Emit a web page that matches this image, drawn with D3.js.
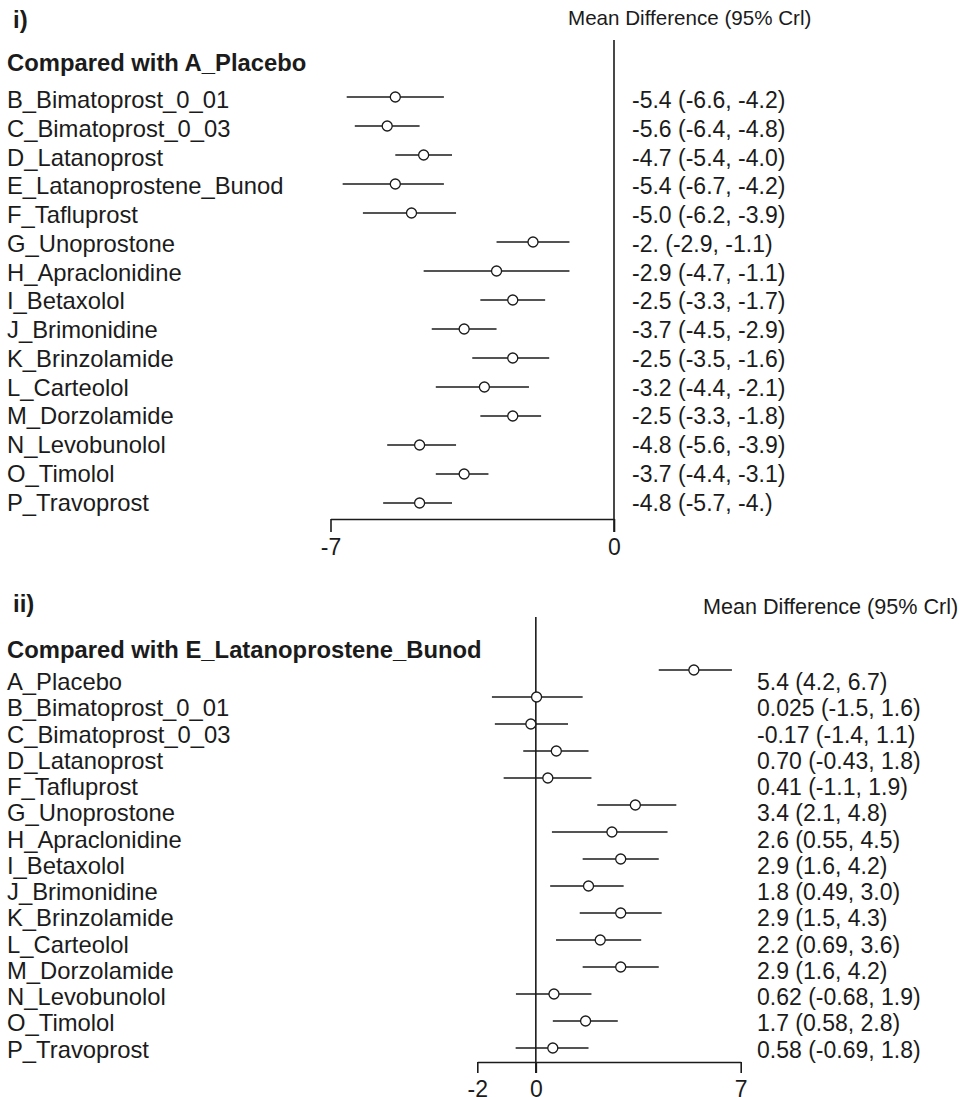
<!DOCTYPE html>
<html>
  <head>
    <style>
      body { margin: 0; background: #ffffff; }
      text { font-family: "Liberation Sans", Arial, sans-serif; fill: #1b1b1b; }
    </style>
  </head>
  <body>
    <svg id="workspace"></svg>
  </body>
</html>

<script src="https://d3js.org/d3.v7.min.js"></script>

<script>
  const WIDTH = 964;
  const HEIGHT = 1097;

  // panel i) - compared with A_Placebo
  const treatmentsA = ['B_Bimatoprost_0_01', 'C_Bimatoprost_0_03', 'D_Latanoprost',
    'E_Latanoprostene_Bunod', 'F_Tafluprost', 'G_Unoprostone', 'H_Apraclonidine',
    'I_Betaxolol', 'J_Brimonidine', 'K_Brinzolamide', 'L_Carteolol', 'M_Dorzolamide',
    'N_Levobunolol', 'O_Timolol', 'P_Travoprost']
  const meanA = [-5.4, -5.6, -4.7, -5.4, -5.0, -2.0, -2.9, -2.5, -3.7, -2.5, -3.2, -2.5, -4.8, -3.7, -4.8]
  const lowA = [-6.6, -6.4, -5.4, -6.7, -6.2, -2.9, -4.7, -3.3, -4.5, -3.5, -4.4, -3.3, -5.6, -4.4, -5.7]
  const highA = [-4.2, -4.8, -4.0, -4.2, -3.9, -1.1, -1.1, -1.7, -2.9, -1.6, -2.1, -1.8, -3.9, -3.1, -4.0]
  const textA = ['-5.4 (-6.6, -4.2)', '-5.6 (-6.4, -4.8)', '-4.7 (-5.4, -4.0)', '-5.4 (-6.7, -4.2)',
    '-5.0 (-6.2, -3.9)', '-2. (-2.9, -1.1)', '-2.9 (-4.7, -1.1)', '-2.5 (-3.3, -1.7)',
    '-3.7 (-4.5, -2.9)', '-2.5 (-3.5, -1.6)', '-3.2 (-4.4, -2.1)', '-2.5 (-3.3, -1.8)',
    '-4.8 (-5.6, -3.9)', '-3.7 (-4.4, -3.1)', '-4.8 (-5.7, -4.)']
  const ticksA = [-7, 0]

  // panel ii) - compared with E_Latanoprostene_Bunod
  const treatmentsE = ['A_Placebo', 'B_Bimatoprost_0_01', 'C_Bimatoprost_0_03', 'D_Latanoprost',
    'F_Tafluprost', 'G_Unoprostone', 'H_Apraclonidine', 'I_Betaxolol', 'J_Brimonidine',
    'K_Brinzolamide', 'L_Carteolol', 'M_Dorzolamide', 'N_Levobunolol', 'O_Timolol', 'P_Travoprost']
  const meanE = [5.4, 0.025, -0.17, 0.70, 0.41, 3.4, 2.6, 2.9, 1.8, 2.9, 2.2, 2.9, 0.62, 1.7, 0.58]
  const lowE = [4.2, -1.5, -1.4, -0.43, -1.1, 2.1, 0.55, 1.6, 0.49, 1.5, 0.69, 1.6, -0.68, 0.58, -0.69]
  const highE = [6.7, 1.6, 1.1, 1.8, 1.9, 4.8, 4.5, 4.2, 3.0, 4.3, 3.6, 4.2, 1.9, 2.8, 1.8]
  const textE = ['5.4 (4.2, 6.7)', '0.025 (-1.5, 1.6)', '-0.17 (-1.4, 1.1)', '0.70 (-0.43, 1.8)',
    '0.41 (-1.1, 1.9)', '3.4 (2.1, 4.8)', '2.6 (0.55, 4.5)', '2.9 (1.6, 4.2)', '1.8 (0.49, 3.0)',
    '2.9 (1.5, 4.3)', '2.2 (0.69, 3.6)', '2.9 (1.6, 4.2)', '0.62 (-0.68, 1.9)', '1.7 (0.58, 2.8)',
    '0.58 (-0.69, 1.8)']
  const ticksE = [-2, 0, 7]

  let svg = d3.select('#workspace')
    .attr('width', WIDTH)
    .attr('height', HEIGHT)

  drawPanel({
    tag: 'i)', tagY: 28,
    header: 'Mean Difference (95% Crl)', headerX: 568, headerY: 25, headerSize: 20.6,
    title: 'Compared with A_Placebo', titleY: 71,
    names: treatmentsA, mean: meanA, low: lowA, high: highA, text: textA, ticks: ticksA,
    xDomain: [-7, 0], xRange: [330.5, 614],
    pointY: [97, 503], textY: [100, 502.5], valueX: 632,
    zeroTop: 40, axisY: 519, tick: 13, tickPad: 7
  })

  drawPanel({
    tag: 'ii)', tagY: 612,
    header: 'Mean Difference (95% Crl)', headerX: 703, headerY: 614, headerSize: 21.6,
    title: 'Compared with E_Latanoprostene_Bunod', titleY: 658,
    names: treatmentsE, mean: meanE, low: lowE, high: highE, text: textE, ticks: ticksE,
    xDomain: [-2, 7], xRange: [477.3, 740.7],
    pointY: [670, 1048], textY: [682, 1049.5], valueX: 757,
    zeroTop: 617, axisY: 1062, tick: 11, tickPad: 8
  })

  // Draw one forest plot panel
  function drawPanel(p) {
    const n = p.names.length
    let x = d3.scaleLinear().domain(p.xDomain).range(p.xRange)
    let yPt = d3.scaleLinear().domain([0, n - 1]).range(p.pointY)
    let yTx = d3.scaleLinear().domain([0, n - 1]).range(p.textY)
    let g = svg.append('g')

    g.append('text')
      .attr('x', 13).attr('y', p.tagY)
      .style('font-size', '24px').style('font-weight', 'bold')
      .text(p.tag)
    g.append('text')
      .attr('x', p.headerX).attr('y', p.headerY)
      .style('font-size', p.headerSize + 'px')
      .text(p.header)
    g.append('text')
      .attr('x', 7).attr('y', p.titleY)
      .style('font-size', '23.8px').style('font-weight', 'bold')
      .text(p.title)

    // treatment names
    g.selectAll('text.name')
      .data(p.names)
      .enter()
      .append('text')
      .attr('class', 'name')
      .attr('x', 7)
      .attr('y', (d, i) => yTx(i) + 8)
      .style('font-size', '23.8px')
      .text(d => d)

    // estimate text
    g.selectAll('text.value')
      .data(p.text)
      .enter()
      .append('text')
      .attr('class', 'value')
      .attr('x', p.valueX)
      .attr('y', (d, i) => yTx(i) + 8)
      .style('font-size', '23px')
      .text(d => d)

    // x axis
    let axis = d3.axisBottom(x)
      .tickValues(p.ticks)
      .tickFormat(d => String(d))
      .tickSize(p.tick)
      .tickSizeOuter(0)
      .tickPadding(p.tickPad)
    let ax = g.append('g')
      .attr('transform', 'translate(0,' + p.axisY + ')')
      .call(axis)
    ax.attr('font-family', null).attr('font-size', null)
    ax.selectAll('path, line').attr('stroke', '#1b1b1b').attr('stroke-width', 1.6)
    ax.selectAll('text').style('font-size', '23px').attr('fill', '#1b1b1b')

    // line of no difference
    g.append('line')
      .attr('x1', x(0)).attr('x2', x(0))
      .attr('y1', p.zeroTop).attr('y2', p.axisY + p.tick)
      .attr('stroke', '#1b1b1b')
      .attr('stroke-width', 1.6)

    // credible intervals
    g.selectAll('line.ci')
      .data(p.mean)
      .enter()
      .append('line')
      .attr('class', 'ci')
      .attr('x1', (d, i) => x(p.low[i]))
      .attr('x2', (d, i) => x(p.high[i]))
      .attr('y1', (d, i) => yPt(i))
      .attr('y2', (d, i) => yPt(i))
      .attr('stroke', '#1b1b1b')
      .attr('stroke-width', 1.6)

    // point estimates
    g.selectAll('circle')
      .data(p.mean)
      .enter()
      .append('circle')
      .attr('cx', d => x(d))
      .attr('cy', (d, i) => yPt(i))
      .attr('r', 5)
      .attr('fill', 'white')
      .attr('stroke', '#1b1b1b')
      .attr('stroke-width', 1.3)
  }
</script>
